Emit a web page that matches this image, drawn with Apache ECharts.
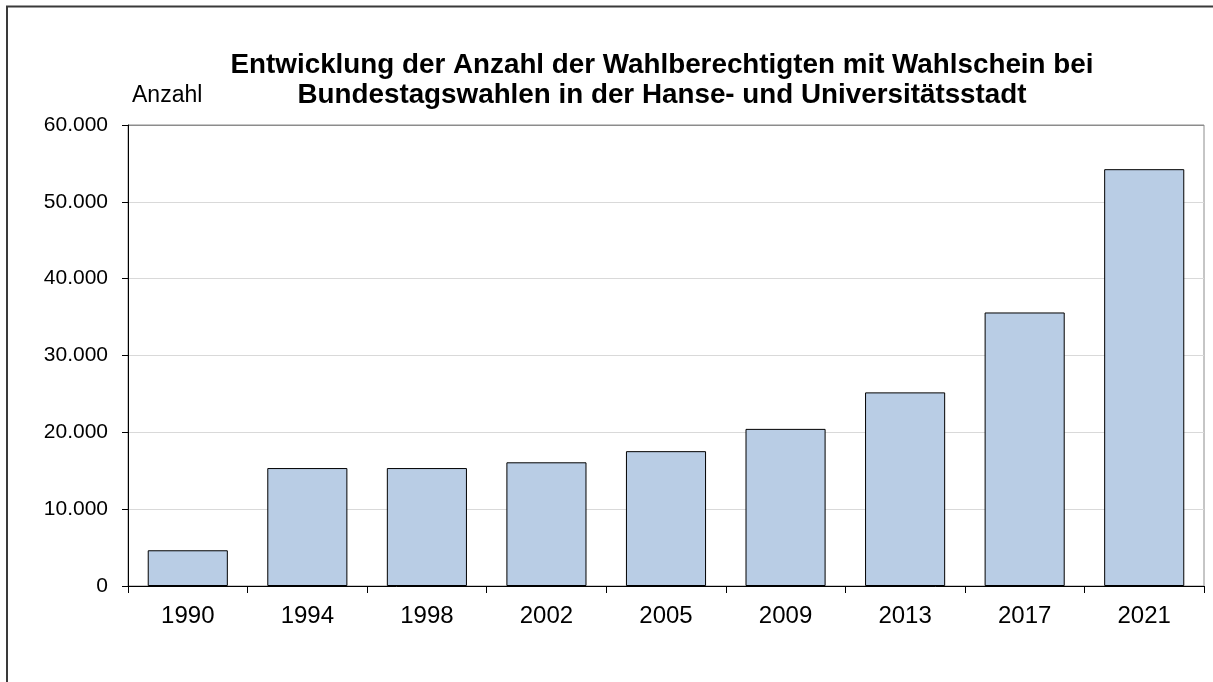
<!DOCTYPE html>
<html>
<head>
<meta charset="utf-8">
<title>Wahlberechtigte mit Wahlschein</title>
<script src="https://cdn.jsdelivr.net/npm/echarts@6/dist/echarts.min.js"></script>
<style>
  html, body { margin: 0; padding: 0; background: #ffffff; }
  #chart { width: 1213px; height: 682px; }
</style>
</head>
<body>
<div id="chart"></div>
<script>
// Bundestagswahlen (Wahljahre) und Anzahl der Wahlberechtigten mit Wahlschein
const years = ['1990', '1994', '1998', '2002', '2005', '2009', '2013', '2017', '2021'];
const wahlscheine = [4650, 15350, 15350, 16100, 17550, 20450, 25200, 35600, 54250];
const titleLines = [
  'Entwicklung der Anzahl der Wahlberechtigten mit Wahlschein bei',
  'Bundestagswahlen in der Hanse- und Universitätsstadt'
];
const yAxisName = 'Anzahl';
const yMin = 0, yMax = 60000, yStep = 10000;

const FONT = '"Liberation Sans", Arial, sans-serif';

// German thousands separator: 60000 -> "60.000"
function formatDe(v) {
  return String(Math.round(v)).replace(/\B(?=(\d{3})+(?!\d))/g, '.');
}

const chart = echarts.init(document.getElementById('chart'), null, { renderer: 'canvas' });

// one colour per horizontal grid line, the topmost doubles as the frame of the plot
const gridLineColors = [];
for (let v = yMin; v <= yMax; v += yStep) gridLineColors.push(v === yMax ? '#8c8c8c' : '#d9d9d9');

chart.setOption({
  animation: false,
  backgroundColor: '#ffffff',
  textStyle: { fontFamily: FONT },
  title: {
    text: titleLines.join('\n'),
    left: 662,
    top: 50,
    padding: 0,
    textAlign: 'center',
    textStyle: {
      fontFamily: FONT,
      fontSize: 27.8,
      fontWeight: 'bold',
      color: '#000000',
      lineHeight: 30
    }
  },
  graphic: [
    {
      type: 'rect',
      silent: true,
      z: -10,
      shape: { x: 7, y: 6.5, width: 1400, height: 900 },
      style: { fill: 'none', stroke: '#3a3a3a', lineWidth: 2 }
    }
  ],
  grid: {
    left: 128,
    right: 9,
    top: 125,
    bottom: 96,
    show: true,
    borderColor: '#8c8c8c',
    borderWidth: 1,
    backgroundColor: 'transparent'
  },
  xAxis: {
    type: 'category',
    data: years,
    boundaryGap: true,
    axisLine: { show: true, lineStyle: { color: '#000000', width: 1 } },
    axisTick: { show: true, alignWithLabel: false, length: 7, lineStyle: { color: '#000000' } },
    axisLabel: { fontFamily: FONT, fontSize: 24, color: '#000000', margin: 18 },
    splitLine: { show: false }
  },
  yAxis: {
    type: 'value',
    min: yMin,
    max: yMax,
    interval: yStep,
    name: yAxisName,
    nameLocation: 'end',
    nameGap: 18,
    nameTextStyle: { fontFamily: FONT, fontSize: 23, color: '#000000', align: 'left', padding: [0, 0, 0, 4] },
    axisLine: { show: true, lineStyle: { color: '#000000', width: 1 } },
    axisTick: { show: true, inside: false, length: 6, lineStyle: { color: '#000000' } },
    axisLabel: {
      fontFamily: FONT,
      fontSize: 21,
      color: '#000000',
      margin: 20,
      formatter: formatDe
    },
    splitLine: { show: true, lineStyle: { color: gridLineColors, width: 1 } }
  },
  series: [
    {
      type: 'bar',
      data: wahlscheine,
      barCategoryGap: '33%',
      itemStyle: { color: '#b9cde5', borderColor: '#000000', borderWidth: 1 },
      label: { show: false }
    }
  ]
});
</script>
</body>
</html>
